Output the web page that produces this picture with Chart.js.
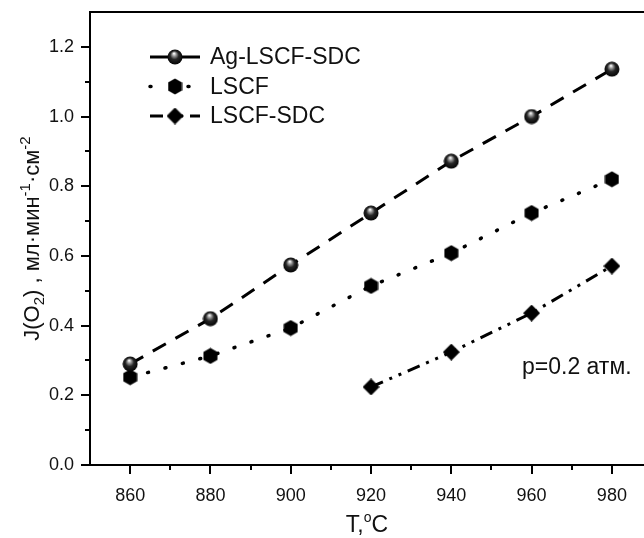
<!DOCTYPE html>
<html>
<head>
<meta charset="utf-8">
<script src="https://cdn.jsdelivr.net/npm/chart.js@4.4.0/dist/chart.umd.min.js"></script>
<style>
  html, body { margin: 0; padding: 0; background: #fff; }
</style>
</head>
<body>
<canvas id="chart" width="644" height="538"></canvas>
<script>
// data
const temperatures = [860, 880, 900, 920, 940, 960, 980];
const agLscfSdc = [0.29, 0.42, 0.574, 0.723, 0.872, 1.0, 1.136];
const lscf = [0.252, 0.313, 0.393, 0.514, 0.608, 0.723, 0.82];
const lscfSdcTemps = [920, 940, 960, 980];
const lscfSdc = [0.224, 0.324, 0.436, 0.571];

const xTicks = [860, 880, 900, 920, 940, 960, 980];
const xMinorTicks = [870, 890, 910, 930, 950, 970];
const yTicks = [0, 0.2, 0.4, 0.6, 0.8, 1.0, 1.2];
const yMinorTicks = [0.1, 0.3, 0.5, 0.7, 0.9, 1.1];

const FONT = '"Liberation Sans", Arial, sans-serif';

// marker images
function makeSphere(d) {
    const c = document.createElement('canvas');
    c.width = d; c.height = d;
    const g = c.getContext('2d');
    const r = d / 2;
    const grad = g.createRadialGradient(r - 1, r - 3.5, 0.5, r, r, r);
    grad.addColorStop(0, '#f4f4f4');
    grad.addColorStop(0.22, '#909090');
    grad.addColorStop(0.5, '#262626');
    grad.addColorStop(1, '#000');
    g.fillStyle = grad;
    g.beginPath();
    g.arc(r, r, r - 0.5, 0, Math.PI * 2);
    g.fill();
    return c;
}

function makeHexagon(w, h) {
    const c = document.createElement('canvas');
    c.width = w; c.height = h;
    const g = c.getContext('2d');
    g.fillStyle = '#000';
    g.beginPath();
    g.moveTo(w / 2, 0.5);
    g.lineTo(w - 0.5, h * 0.26);
    g.lineTo(w - 0.5, h * 0.74);
    g.lineTo(w / 2, h - 0.5);
    g.lineTo(0.5, h * 0.74);
    g.lineTo(0.5, h * 0.26);
    g.closePath();
    g.fill();
    return c;
}

function makeDiamond(d) {
    const c = document.createElement('canvas');
    c.width = d; c.height = d;
    const g = c.getContext('2d');
    g.fillStyle = '#000';
    g.beginPath();
    g.moveTo(d / 2, 0);
    g.lineTo(d, d / 2);
    g.lineTo(d / 2, d);
    g.lineTo(0, d / 2);
    g.closePath();
    g.fill();
    return c;
}

const sphere = makeSphere(16);
const hexagon = makeHexagon(15, 17);
const diamond = makeDiamond(17);

const toPoints = (xs, ys) => xs.map((x, i) => ({ x, y: ys[i] }));

// legend, minor ticks, titles, annotation
const decorations = {
    id: 'decorations',
    afterDraw(chart) {
        const ctx = chart.ctx;
        const area = chart.chartArea;
        const xs = chart.scales.x;
        const ys = chart.scales.y;

        ctx.save();
        ctx.strokeStyle = '#000';
        ctx.lineWidth = 2;

        // top frame line
        ctx.beginPath();
        ctx.moveTo(area.left - 1, area.top);
        ctx.lineTo(area.right, area.top);
        ctx.stroke();

        // minor ticks
        ctx.beginPath();
        xMinorTicks.forEach(v => {
            const px = Math.round(xs.getPixelForValue(v));
            ctx.moveTo(px, area.bottom);
            ctx.lineTo(px, area.bottom + 5);
        });
        yMinorTicks.forEach(v => {
            const py = Math.round(ys.getPixelForValue(v));
            ctx.moveTo(area.left, py);
            ctx.lineTo(area.left - 5, py);
        });
        ctx.stroke();

        ctx.fillStyle = '#111';

        // y title with sub / superscripts
        const parts = [
            { t: 'J(O', k: 'n' }, { t: '2', k: 'sub' }, { t: ') , мл·мин', k: 'n' },
            { t: '-1', k: 'sup' }, { t: '·см', k: 'n' }, { t: '-2', k: 'sup' }
        ];
        const big = '22px ' + FONT;
        const small = '15px ' + FONT;
        let total = 0;
        parts.forEach(p => {
            ctx.font = p.k === 'n' ? big : small;
            p.w = ctx.measureText(p.t).width;
            total += p.w;
        });
        ctx.save();
        ctx.translate(39, (area.top + area.bottom) / 2);
        ctx.rotate(-Math.PI / 2);
        ctx.textBaseline = 'alphabetic';
        ctx.textAlign = 'left';
        let cx = -total / 2;
        parts.forEach(p => {
            ctx.font = p.k === 'n' ? big : small;
            const dy = p.k === 'sub' ? 5 : (p.k === 'sup' ? -9 : 0);
            ctx.fillText(p.t, cx, dy);
            cx += p.w;
        });
        ctx.restore();

        // x title
        ctx.textBaseline = 'alphabetic';
        ctx.textAlign = 'left';
        const xt = '23px ' + FONT;
        ctx.font = xt;
        const wT = ctx.measureText('T,').width;
        const wC = ctx.measureText('C').width;
        ctx.font = '14px ' + FONT;
        const wo = ctx.measureText('o').width;
        let tx = (area.left + area.right) / 2 - (wT + wo + wC) / 2;
        ctx.font = xt;
        ctx.fillText('T,', tx, 532);
        ctx.font = '14px ' + FONT;
        ctx.fillText('o', tx + wT, 522);
        ctx.font = xt;
        ctx.fillText('C', tx + wT + wo, 532);

        // annotation
        ctx.font = '23px ' + FONT;
        ctx.fillText('p=0.2 атм.', 522, 374);

        // legend inside the plot
        chart.data.datasets.forEach((ds, i) => {
            const ly = 57 + i * 29.5;
            ctx.save();
            ctx.strokeStyle = '#000';
            ctx.lineWidth = ds.borderWidth;
            ctx.lineCap = ds.borderCapStyle || 'butt';
            ctx.setLineDash(ds.legendDash);
            ctx.beginPath();
            ctx.moveTo(150, ly);
            ctx.lineTo(200, ly);
            ctx.stroke();
            ctx.restore();
            const img = ds.pointStyle;
            ctx.drawImage(img, 175 - img.width / 2, ly - img.height / 2);
            ctx.font = '23px ' + FONT;
            ctx.fillStyle = '#111';
            ctx.textBaseline = 'middle';
            ctx.fillText(ds.label, 210, ly + 1);
        });

        ctx.restore();
    }
};

const ctx = document.getElementById('chart').getContext('2d');

new Chart(ctx, {
    type: 'line',
    data: {
        datasets: [
            {
                label: 'Ag-LSCF-SDC',
                data: toPoints(temperatures, agLscfSdc),
                borderColor: '#000',
                borderWidth: 3,
                borderDash: [15, 11],
                legendDash: [],
                pointStyle: sphere,
                pointRadius: 8,
                tension: 0
            },
            {
                label: 'LSCF',
                data: toPoints(temperatures, lscf),
                borderColor: '#000',
                borderWidth: 3.5,
                borderDash: [1, 17],
                borderCapStyle: 'round',
                legendDash: [1, 37],
                pointStyle: hexagon,
                pointRadius: 8,
                tension: 0
            },
            {
                label: 'LSCF-SDC',
                data: toPoints(lscfSdcTemps, lscfSdc),
                borderColor: '#000',
                borderWidth: 3,
                borderDash: [13, 7, 3, 7, 3, 7],
                legendDash: [13, 7, 3, 7, 3, 7],
                pointStyle: diamond,
                pointRadius: 8,
                tension: 0
            }
        ]
    },
    options: {
        responsive: false,
        animation: false,
        devicePixelRatio: 1,
        layout: { autoPadding: false, padding: { top: 12, left: 0, right: 0, bottom: 0 } },
        plugins: {
            legend: { display: false },
            tooltip: { enabled: false }
        },
        scales: {
            x: {
                type: 'linear',
                min: 850,
                max: 988,
                afterBuildTicks: scale => { scale.ticks = xTicks.map(v => ({ value: v })); },
                afterFit: scale => {
                    scale.height = 73;
                    scale.paddingLeft = 0;
                    scale.paddingRight = 0;
                },
                ticks: {
                    color: '#111',
                    font: { family: FONT, size: 18 },
                    padding: 11,
                    maxRotation: 0,
                    callback: v => String(v)
                },
                grid: { drawOnChartArea: false, drawTicks: true, tickLength: 9, color: '#000', lineWidth: 2 },
                border: { display: true, color: '#000', width: 2 }
            },
            y: {
                min: 0,
                max: 1.3,
                afterBuildTicks: scale => { scale.ticks = yTicks.map(v => ({ value: v })); },
                afterFit: scale => {
                    scale.width = 90;
                    scale.paddingTop = 0;
                    scale.paddingBottom = 0;
                },
                ticks: {
                    color: '#111',
                    font: { family: FONT, size: 18 },
                    padding: 7,
                    callback: v => v.toFixed(1)
                },
                grid: { drawOnChartArea: false, drawTicks: true, tickLength: 9, color: '#000', lineWidth: 2 },
                border: { display: true, color: '#000', width: 2 }
            }
        }
    },
    plugins: [decorations]
});
</script>
</body>
</html>
